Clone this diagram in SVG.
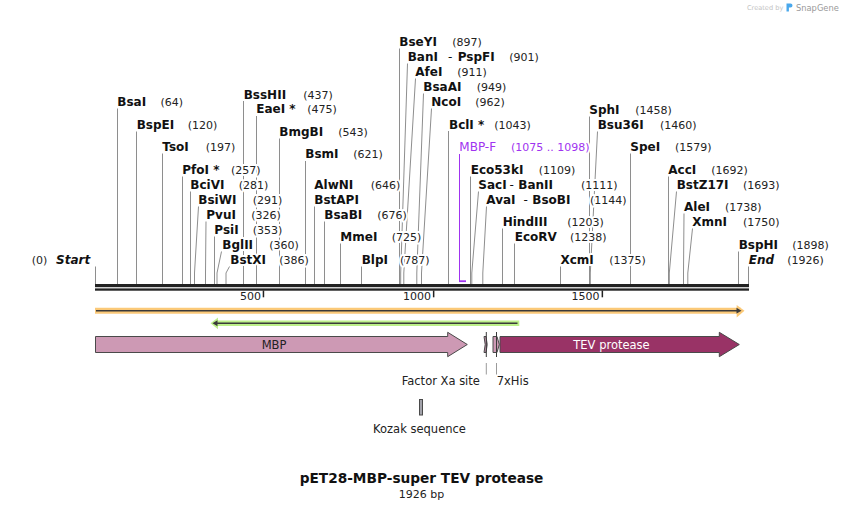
<svg xmlns="http://www.w3.org/2000/svg" width="844" height="510" viewBox="0 0 844 510">
<style>
text{font-family:"DejaVu Sans","Liberation Sans",sans-serif;fill:#111}
.n,.p,.d,.e,.pu{paint-order:stroke;stroke:#fff;stroke-width:4px;stroke-linejoin:round}
.n{font-size:12px;font-weight:bold}
.p{font-size:11px;font-weight:normal;fill:#222}
.d{font-size:12px;font-weight:normal}
.e{font-size:12px;font-weight:bold;font-style:italic}
.f{font-size:11.5px}
.pu{fill:#a033f0}
.l{stroke:#8e8e8e;stroke-width:1;fill:none}
.feat{stroke:#4a4a4a;stroke-width:1}
</style>
<rect width="844" height="510" fill="#fff"/>

<g id="watermark">
<text x="747" y="10" style="font-size:6.6px;fill:#c4c4c4">Created by</text>
<path d="M786.5 3.5 h4 a2 2 0 0 1 0 4 h-1.6 v4 h-2.4 z" fill="#4aa8ec"/>
<text x="796" y="10.5" style="font-size:8.3px;fill:#9a9a9a">SnapGene</text>
</g>

<g id="connectors">
<path class="l" d="M95.5 266.5V284"/>
<path class="l" d="M117.5 108.5V284"/>
<path class="l" d="M136.5 131.5V284"/>
<path class="l" d="M162.5 153.5V284"/>
<path class="l" d="M182.5 176.5V284"/>
<path class="l" d="M190.5 191.5V284"/>
<path class="l" d="M198.5 206.5L194.5 273V284"/>
<path class="l" d="M206 221.5L205.5 273V284"/>
<path class="l" d="M214.5 236.5V284"/>
<path class="l" d="M221.5 251.5L217 273V284"/>
<path class="l" d="M229.5 266.5L226 273V284"/>
<path class="l" d="M243.5 101V284"/>
<path class="l" d="M256.5 116V284"/>
<path class="l" d="M279.5 138.5V284"/>
<path class="l" d="M305.5 161V284"/>
<path class="l" d="M314.5 206.5V284"/>
<path class="l" d="M324.5 221.5V284"/>
<path class="l" d="M340.5 243.5V284"/>
<path class="l" d="M361.5 266.5V284"/>
<path class="l" d="M399.5 48.5V284"/>
<path class="l" d="M407.5 63.5L400.7 273V284"/>
<path class="l" d="M415.5 78.5L403.8 273V284"/>
<path class="l" d="M423.5 93.5L416.8 273V284"/>
<path class="l" d="M431.5 108.5L421.5 273V284"/>
<path class="l" d="M448.5 131V284"/>
<path class="l" d="M470.5 176.5V284"/>
<path class="l" d="M478.5 191.5L471.8 273V284"/>
<path class="l" d="M486.5 206.5L482.8 273V284"/>
<path class="l" d="M502.5 228.5V284"/>
<path class="l" d="M514.5 243.5V284"/>
<path class="l" d="M560.5 266.5V284"/>
<path class="l" d="M589.5 116.5V284"/>
<path class="l" d="M597.5 131.5L590.3 273V284"/>
<path class="l" d="M630.5 153.5V284"/>
<path class="l" d="M668.5 176.5V284"/>
<path class="l" d="M676.5 191.5L669.3 273V284"/>
<path class="l" d="M684 213.5L683.5 273V284"/>
<path class="l" d="M692.5 228.5L687.8 273V284"/>
<path class="l" d="M738.5 251.5V284"/>
<path class="l" d="M748.5 266.5V284"/>
<path d="M459.5 154V281" stroke="#a033f0" stroke-width="1" fill="none"/>
<rect x="459" y="280.3" width="7" height="1.8" fill="#a033f0"/>
<path d="M486.3 363V374.5M496.5 363V374.5" stroke="#9a9a9a" stroke-width="1"/>
</g>

<g id="backbone">
<rect x="95" y="284" width="654" height="3.2" fill="#222"/>
<rect x="95" y="288.4" width="654" height="2.3" fill="#222"/>
<rect x="262.7" y="290.5" width="1.5" height="6.8" fill="#222"/>
<rect x="432.9" y="290.5" width="1.5" height="6.8" fill="#222"/>
<rect x="601.6" y="290.5" width="1.5" height="6.8" fill="#222"/>
<text x="261" y="300" text-anchor="end" style="font-size:11px;fill:#222">500</text>
<text x="431" y="300" text-anchor="end" style="font-size:11px;fill:#222">1000</text>
<text x="599.5" y="300" text-anchor="end" style="font-size:11px;fill:#222">1500</text>
</g>

<g id="start"><text class="p" x="31.7" y="264">(0)</text><text class="e" x="56" y="264">Start</text></g>
<g id="BsaI"><text class="n" x="117.3" y="106">BsaI</text><text class="p" x="160.5" y="106">(64)</text></g>
<g id="BspEI"><text class="n" x="136.7" y="129">BspEI</text><text class="p" x="187.7" y="129">(120)</text></g>
<g id="TsoI"><text class="n" x="162.3" y="151">TsoI</text><text class="p" x="205.7" y="151">(197)</text></g>
<g id="PfoI"><text class="n" x="182.3" y="174">PfoI *</text><text class="p" x="231" y="174">(257)</text></g>
<g id="BciVI"><text class="n" x="190.3" y="189">BciVI</text><text class="p" x="238.7" y="189">(281)</text></g>
<g id="BsiWI"><text class="n" x="198.3" y="204">BsiWI</text><text class="p" x="252.7" y="204">(291)</text></g>
<g id="PvuI"><text class="n" x="206.3" y="219">PvuI</text><text class="p" x="251.3" y="219">(326)</text></g>
<g id="PsiI"><text class="n" x="214.3" y="234">PsiI</text><text class="p" x="252.7" y="234">(353)</text></g>
<g id="BglII"><text class="n" x="222.3" y="249">BglII</text><text class="p" x="269.3" y="249">(360)</text></g>
<g id="BstXI"><text class="n" x="230.3" y="264">BstXI</text><text class="p" x="279.3" y="264">(386)</text></g>
<g id="BssHII"><text class="n" x="243.7" y="98.5">BssHII</text><text class="p" x="303.3" y="98.5">(437)</text></g>
<g id="EaeI"><text class="n" x="256.3" y="113.3">EaeI *</text><text class="p" x="307.3" y="113.3">(475)</text></g>
<g id="BmgBI"><text class="n" x="279.3" y="136">BmgBI</text><text class="p" x="338.3" y="136">(543)</text></g>
<g id="BsmI"><text class="n" x="305.3" y="158.3">BsmI</text><text class="p" x="353.3" y="158.3">(621)</text></g>
<g id="AlwNI"><text class="n" x="314.3" y="189">AlwNI</text><text class="p" x="370.7" y="189">(646)</text><text class="n" x="314.3" y="204">BstAPI</text></g>
<g id="BsaBI"><text class="n" x="324.3" y="219">BsaBI</text><text class="p" x="377.3" y="219">(676)</text></g>
<g id="MmeI"><text class="n" x="340.3" y="241">MmeI</text><text class="p" x="391.7" y="241">(725)</text></g>
<g id="BlpI"><text class="n" x="361.7" y="264">BlpI</text><text class="p" x="400" y="264">(787)</text></g>
<g id="BseYI"><text class="n" x="399.3" y="46">BseYI</text><text class="p" x="452.3" y="46">(897)</text></g>
<g id="BanI"><text class="n" x="407.7" y="61">BanI</text><text class="d" x="448" y="61">-</text><text class="n" x="457.7" y="61">PspFI</text><text class="p" x="509.3" y="61">(901)</text></g>
<g id="AfeI"><text class="n" x="415.3" y="76">AfeI</text><text class="p" x="457.3" y="76">(911)</text></g>
<g id="BsaAI"><text class="n" x="423.3" y="91">BsaAI</text><text class="p" x="476.7" y="91">(949)</text></g>
<g id="NcoI"><text class="n" x="431.3" y="106">NcoI</text><text class="p" x="475.3" y="106">(962)</text></g>
<g id="BclI"><text class="n" x="449" y="128.5">BclI *</text><text class="p" x="494.3" y="128.5">(1043)</text></g>
<g id="MBP-F"><text class="pu" x="459.3" y="151" style="font-size:12px">MBP-F</text><text class="pu" x="511" y="151" style="font-size:11px">(1075 .. 1098)</text></g>
<g id="Eco53kI"><text class="n" x="470.7" y="174">Eco53kI</text><text class="p" x="538.7" y="174">(1109)</text></g>
<g id="SacI"><text class="n" x="478.3" y="189">SacI</text><text class="d" x="509.5" y="189">-</text><text class="n" x="518.3" y="189">BanII</text><text class="p" x="581" y="189">(1111)</text></g>
<g id="AvaI"><text class="n" x="486.3" y="204">AvaI</text><text class="d" x="523.5" y="204">-</text><text class="n" x="532.3" y="204">BsoBI</text><text class="p" x="590" y="204">(1144)</text></g>
<g id="HindIII"><text class="n" x="502.7" y="226">HindIII</text><text class="p" x="567.3" y="226">(1203)</text></g>
<g id="EcoRV"><text class="n" x="514.7" y="241">EcoRV</text><text class="p" x="570" y="241">(1238)</text></g>
<g id="XcmI"><text class="n" x="560.5" y="264">XcmI</text><text class="p" x="609.3" y="264">(1375)</text></g>
<g id="SphI"><text class="n" x="589.3" y="114">SphI</text><text class="p" x="635.3" y="114">(1458)</text></g>
<g id="Bsu36I"><text class="n" x="597.7" y="129">Bsu36I</text><text class="p" x="660" y="129">(1460)</text></g>
<g id="SpeI"><text class="n" x="630.3" y="151">SpeI</text><text class="p" x="675" y="151">(1579)</text></g>
<g id="AccI"><text class="n" x="668.3" y="174">AccI</text><text class="p" x="711.3" y="174">(1692)</text></g>
<g id="BstZ17I"><text class="n" x="676.7" y="189">BstZ17I</text><text class="p" x="743" y="189">(1693)</text></g>
<g id="AleI"><text class="n" x="684" y="211">AleI</text><text class="p" x="725" y="211">(1738)</text></g>
<g id="XmnI"><text class="n" x="692.3" y="226">XmnI</text><text class="p" x="743" y="226">(1750)</text></g>
<g id="BspHI"><text class="n" x="738.7" y="249">BspHI</text><text class="p" x="792.3" y="249">(1898)</text></g>
<g id="end"><text class="e" x="748.7" y="264">End</text><text class="p" x="787.3" y="264">(1926)</text></g>

<g id="orange-feature">
<path d="M95 310.7H741" stroke="#fbc978" stroke-width="6" fill="none"/>
<path d="M736.7 305L744.5 310.7L736.7 317.4Z" fill="#fbc978"/>
<path d="M96 310.7H738" stroke="#3a3a3a" stroke-width="1.6" fill="none"/>
<path d="M736.5 307.8L741.5 310.7L736.5 313.6Z" fill="#3a3a3a"/>
</g>

<g id="green-feature">
<path d="M216 323.3H519.3" stroke="#bdf08a" stroke-width="5.4" fill="none"/>
<path d="M218 317.5L210.5 323.3L218 329.2Z" fill="#bdf08a"/>
<path d="M216 323.3H517.5" stroke="#3a3a3a" stroke-width="1.6" fill="none"/>
<path d="M217.5 320.3L212.5 323.3L217.5 326.3Z" fill="#3a3a3a"/>
</g>

<g id="MBP">
<path class="feat" d="M95.5 336.5H447.7V332.3L467.3 344.5L447.7 356.7V352.5H95.5Z" fill="#cd99b4"/>
<text x="274" y="348.5" text-anchor="middle" class="f" style="fill:#222">MBP</text>
</g>

<g id="FactorXa">
<path class="feat" d="M484 336.5H486L487.2 344.5L486 352.5H484L485.2 344.5Z" fill="#cd99b4"/>
<path d="M486.3 332V357" stroke="#3a3a3a" stroke-width="1"/>
<text class="f" x="401.7" y="385" style="fill:#222">Factor Xa site</text>
</g>

<g id="his">
<path class="feat" d="M493 336.5H497L499.3 344.5L497 352.5H493Z" fill="#cd99b4"/>
<path d="M496.5 332V357" stroke="#3a3a3a" stroke-width="1"/>
<text class="f" x="496.7" y="385" style="fill:#222">7xHis</text>
</g>

<g id="TEV">
<path class="feat" d="M500 336.5H719.3V332.3L739.3 344.5L719.3 356.7V352.5H500Z" fill="#993366"/>
<text x="611.5" y="348.5" text-anchor="middle" class="f" style="fill:#fff">TEV protease</text>
</g>

<g id="Kozak">
<rect x="419.5" y="399.5" width="3" height="15.5" fill="#a2a2aa" stroke="#4a4a4a" stroke-width="1"/>
<text class="f" x="419.5" y="432.7" text-anchor="middle" style="fill:#222">Kozak sequence</text>
</g>

<g id="title">
<text x="421.5" y="483.3" text-anchor="middle" style="font-size:13.7px;font-weight:bold">pET28-MBP-super TEV protease</text>
<text x="421.5" y="497.5" text-anchor="middle" style="font-size:11px;fill:#222">1926 bp</text>
</g>
</svg>
